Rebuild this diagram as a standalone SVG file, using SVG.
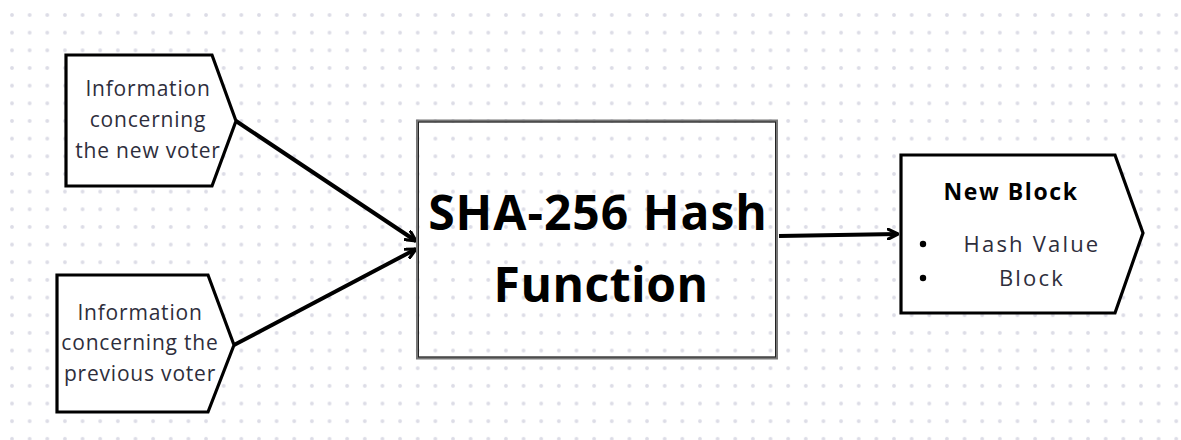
<svg xmlns="http://www.w3.org/2000/svg" width="1181" height="440" viewBox="0 0 1181 440">
  <defs>
    <pattern id="dots" patternUnits="userSpaceOnUse" x="3.18" y="6.18" width="17.64" height="17.66">
      <circle cx="8.82" cy="8.83" r="1.9" fill="#dcdce6"/>
    </pattern>
    <marker id="chevron" viewBox="0 0 12 12" refX="11" refY="6" markerWidth="12" markerHeight="12" markerUnits="userSpaceOnUse" orient="auto">
      <path d="M1,1 L11,6 L1,11" fill="none" stroke="#000" stroke-width="3.2" stroke-linecap="round" stroke-linejoin="round"/>
    </marker>
    <style>
      .shape { fill: #fff; stroke: #000; stroke-width: 3.2; stroke-linejoin: miter; }
      .info { font-family: "Open Sans", "Noto Sans", "Liberation Sans", sans-serif; font-size: 21px; letter-spacing: 0.8px; fill: #2e2e3c; text-anchor: middle; }
      .item { font-family: "Open Sans", "Noto Sans", "Liberation Sans", sans-serif; font-size: 22px; letter-spacing: 2.2px; fill: #2e2e3c; text-anchor: middle; }
      .title { font-family: "Open Sans", "Noto Sans", "Liberation Sans", sans-serif; font-weight: bold; fill: #000; text-anchor: middle; }
      .link { fill: none; stroke: #000; stroke-width: 4; marker-end: url(#chevron); }
    </style>
  </defs>

  <!-- dotted canvas -->
  <rect width="1181" height="440" fill="#fff"/>
  <rect width="1181" height="440" fill="url(#dots)"/>

  <g id="connectors">
    <path class="link" d="M236,121 L416,241"/>
    <path class="link" d="M234,345 L416,249"/>
    <path class="link" d="M779,236 L898,234"/>
  </g>

  <g id="node-new-voter">
    <polygon class="shape" points="66,55 212,55 236,121 212,186 66,186"/>
    <text class="info" x="148" y="96">Information</text>
    <text class="info" x="148" y="127">concerning</text>
    <text class="info" x="148" y="158">the new voter</text>
  </g>

  <g id="node-previous-voter">
    <polygon class="shape" points="57,275 208,275 234,345 208,412 57,412"/>
    <text class="info" x="140" y="320">Information</text>
    <text class="info" x="140" y="350">concerning the</text>
    <text class="info" x="140" y="381">previous voter</text>
  </g>

  <g id="node-sha256">
    <rect x="417.5" y="121" width="359" height="237" fill="none" stroke="#777" stroke-width="3"/>
    <rect x="418.5" y="122" width="357" height="235" fill="none" stroke="#222" stroke-width="1"/>
    <text class="title" x="598" y="230" font-size="48" letter-spacing="1">SHA-256 Hash</text>
    <text class="title" x="601" y="302" font-size="48" letter-spacing="0.5">Function</text>
  </g>

  <g id="node-new-block">
    <polygon class="shape" points="901,155 1115,155 1143,233 1115,313 901,313"/>
    <text class="title" x="1011" y="200" font-size="23" letter-spacing="1.6">New Block</text>
    <circle cx="923" cy="244" r="3.2" fill="#000"/>
    <circle cx="923" cy="278" r="3.2" fill="#000"/>
    <text class="item" x="1032" y="252">Hash Value</text>
    <text class="item" x="1032" y="286">Block</text>
  </g>
</svg>
